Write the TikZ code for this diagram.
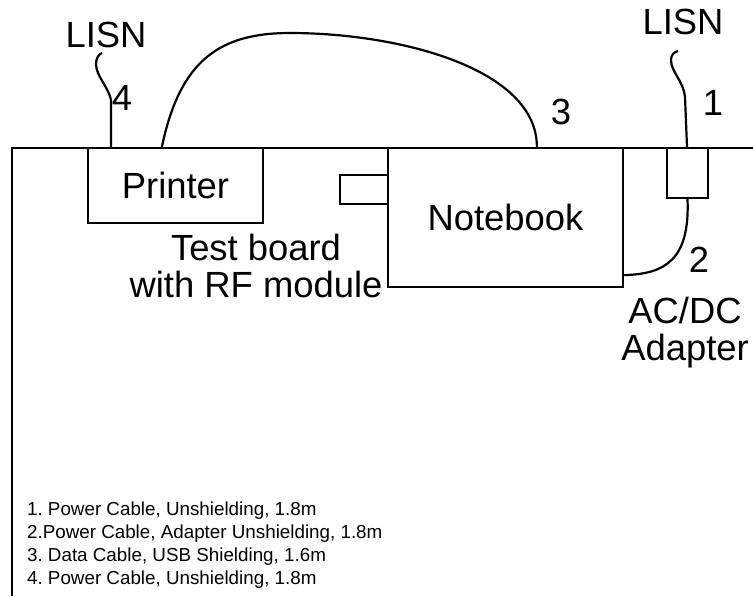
\documentclass[tikz,border=0pt]{standalone}
\usepackage{fontspec}
\setmainfont{Liberation Sans}
\usetikzlibrary{calc}
\frenchspacing
\newcommand{\bigtxt}{\fontsize{18.2}{18.5}\selectfont}
\newcommand{\smalltxt}{\fontsize{9.4}{11.5}\selectfont}

\begin{document}
\begin{tikzpicture}[x=0.5pt,y=-0.5pt,line width=1.1pt,
    box/.style={draw,rectangle,inner sep=0pt,font=\bigtxt},
    lbl/.style={inner sep=0pt,font=\bigtxt},
    cable/.style={line join=round}]
    \useasboundingbox (0,0) rectangle (753,596);
    % test table
    \draw (12,596) -- (12,148) -- (753,148);

    % equipment on the table
    \node[box,minimum width=87.5pt,minimum height=37.5pt] (printer) at (175.5,185.5){Printer};
    \node[box,minimum width=117.5pt,minimum height=69.5pt] (notebook) at (505.5,217.5){Notebook};
    \node[box,minimum width=24pt,minimum height=14.5pt] (board) at (364,189.5){};
    \node[box,minimum width=20.5pt,minimum height=25pt] (adapter) at (687.5,173){};

    % labels
    \node[lbl] (lisnL) at (106,35){LISN};
    \node[lbl] (lisnR) at (683,22){LISN};
    \node[lbl] (n4) at (122,98){4};
    \node[lbl] (n3) at (561,112){3};
    \node[lbl] (n1) at (713,103){1};
    \node[lbl] (n2) at (699,260){2};
    \node[lbl,align=center,anchor=north] (boardtxt) at (256,233){Test board\\with RF module};
    \node[lbl,align=center,anchor=north] (adaptertxt) at (685,296){AC/DC\\Adapter};
    \node[inner sep=0pt,font=\smalltxt,align=left,anchor=north west] (legend) at (26,501){1. Power Cable, Unshielding, 1.8m\\2.Power Cable, Adapter Unshielding, 1.8m\\3. Data Cable, USB Shielding, 1.6m\\4. Power Cable, Unshielding, 1.8m};

    % cables
    \draw[cable] ($(printer.north west)+(24,0)$) -- (111,100) .. controls (109,88) and (96,76) .. (96,64) .. controls (96,58) and (99,54) .. ($(lisnL.south)+(-4,4)$);
    \draw[cable] ($(printer.north west)+(75,0)$) .. controls (180,60) and (220,33) .. (290,33) .. controls (400,33) and ($(notebook.north west)+(150,-78)$) .. ($(notebook.north west)+(150,0)$);
    \draw[cable] ($(adapter.north)+(-0.5,0)$) -- (685,97) .. controls (683,80) and (671,72) .. (671,60) .. controls (671,55) and (674,52) .. ($(lisnR.south)+(-5,15)$);
    \draw[cable] (adapter.south) .. controls (690,260) and (665,274) .. ($(notebook.south east)+(0,-13)$);
\end{tikzpicture}
\end{document}
